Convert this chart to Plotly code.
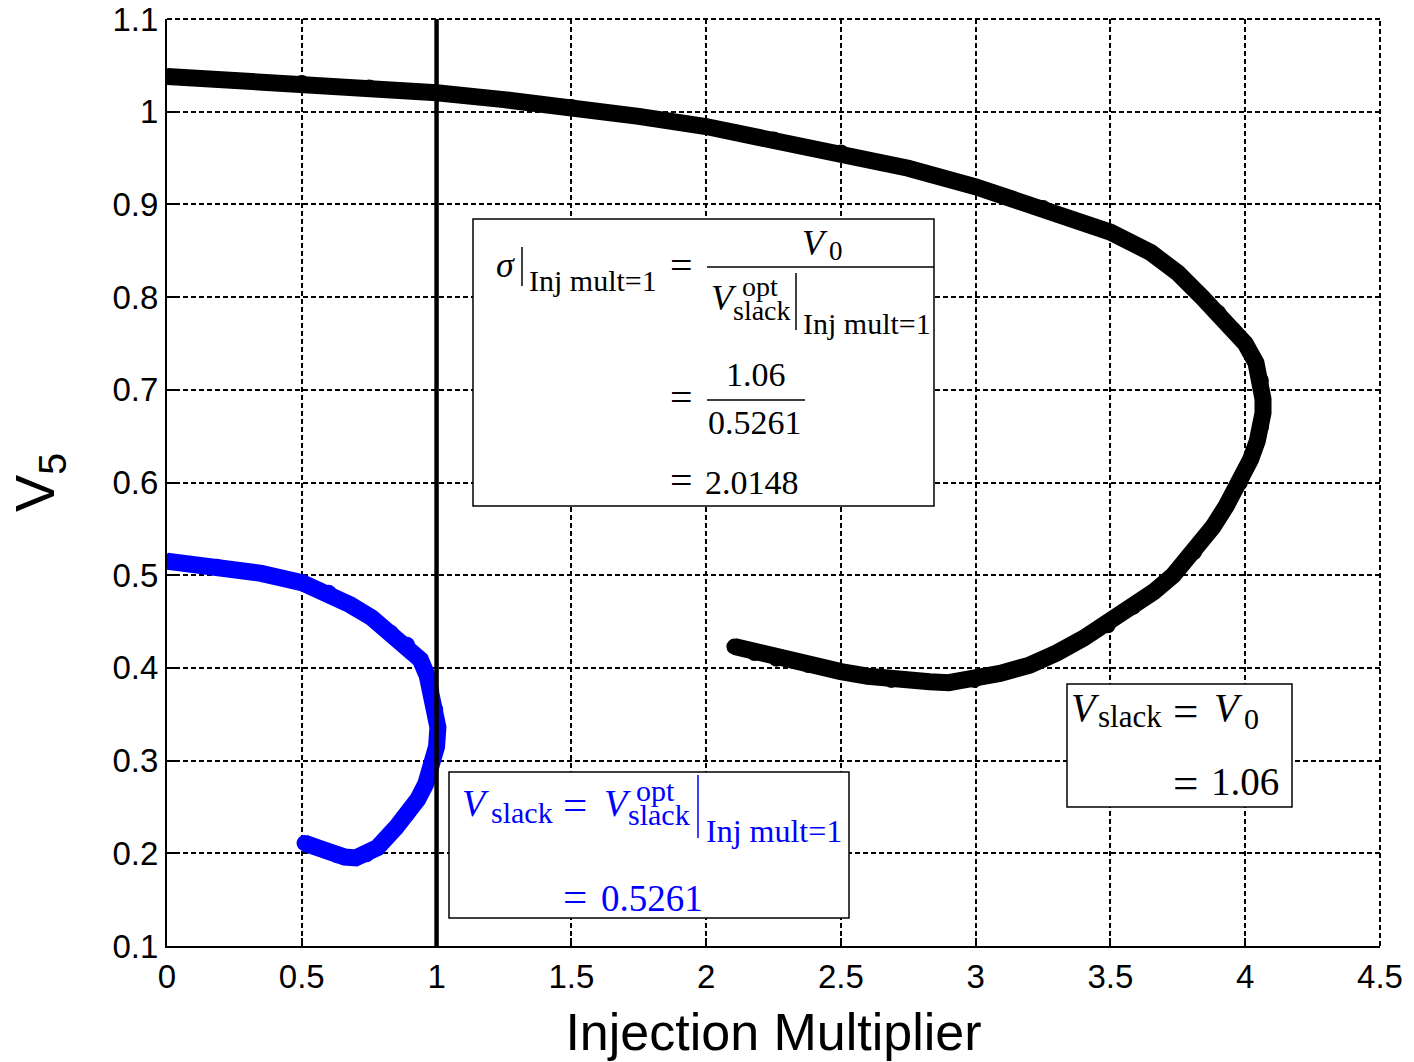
import plotly.graph_objects as go

# ---------------- data ----------------
black_x = [0.0, 0.25, 0.5, 0.75, 1.0, 1.25, 1.5, 1.75, 2.0, 2.25,
           2.5, 2.75, 3.0, 3.25, 3.5, 3.65, 3.75, 3.84, 3.90, 3.955,
           4.0, 4.04, 4.058, 4.066, 4.066, 4.058, 4.045, 4.02, 3.98, 3.93,
           3.88, 3.81, 3.733, 3.66, 3.584, 3.49, 3.40, 3.30, 3.20, 3.09,
           2.995, 2.90, 2.829, 2.687, 2.60, 2.50, 2.38, 2.261, 2.18, 2.105]
black_y = [1.038, 1.034, 1.031, 1.026, 1.0205, 1.013, 1.005, 0.995, 0.984, 0.970,
           0.956, 0.939, 0.919, 0.896, 0.870, 0.848, 0.826, 0.800, 0.783, 0.765,
           0.750, 0.729, 0.710, 0.690, 0.675, 0.660, 0.645, 0.625, 0.600, 0.575,
           0.552, 0.525, 0.500, 0.482, 0.466, 0.446, 0.432, 0.416, 0.403, 0.394,
           0.387, 0.384, 0.385, 0.387, 0.391, 0.396, 0.403, 0.410, 0.416, 0.423]

blue_x = [0.0, 0.185, 0.35, 0.5, 0.6, 0.68, 0.76, 0.83, 0.89, 0.94, 0.965, 0.98,
          0.995, 1.005, 1.0, 0.98, 0.96, 0.93, 0.89, 0.85, 0.78, 0.74, 0.70, 0.66,
          0.63, 0.57, 0.51]
blue_y = [0.515, 0.509, 0.502, 0.492, 0.481, 0.468, 0.454, 0.438, 0.425, 0.409, 0.392,
          0.376, 0.355, 0.336, 0.315, 0.293, 0.275, 0.258, 0.242, 0.228, 0.206, 0.199,
          0.195, 0.196, 0.198, 0.205, 0.211]

vline_x = [1.0, 1.0]
vline_y = [0.1, 1.1]

x_ticks = [0, 0.5, 1, 1.5, 2, 2.5, 3, 3.5, 4, 4.5]
x_tick_text = ["0", "0.5", "1", "1.5", "2", "2.5", "3", "3.5", "4", "4.5"]
y_ticks = [0.1, 0.2, 0.3, 0.4, 0.5, 0.6, 0.7, 0.8, 0.9, 1.0, 1.1]
y_tick_text = ["0.1", "0.2", "0.3", "0.4", "0.5", "0.6", "0.7", "0.8", "0.9", "1", "1.1"]

x_title = "Injection Multiplier"
y_title = "V<sub>5</sub>"

# ---------------- layout helpers (pixel -> paper) ----------------
W, H = 1414, 1062
L, R, T, B = 167, 1380, 19, 946


def px(x):
    return (x - L) / (R - L)


def py(y):
    return (B - y) / (B - T)


SERIF = "Liberation Serif"
annotations = []
shapes = []


def txt(x, y, s, size, color="black", xanchor="center"):
    annotations.append(dict(x=px(x), y=py(y), xref="paper", yref="paper", text=s,
                            showarrow=False, xanchor=xanchor, yanchor="middle",
                            font=dict(family=SERIF, size=size, color=color)))


def hline(x0, x1, y, color="black", w=1.5):
    shapes.append(dict(type="line", xref="paper", yref="paper", x0=px(x0), x1=px(x1),
                       y0=py(y), y1=py(y), line=dict(color=color, width=w), layer="above"))


def vline(x, y0, y1, color="black", w=1.5):
    shapes.append(dict(type="line", xref="paper", yref="paper", x0=px(x), x1=px(x),
                       y0=py(y0), y1=py(y1), line=dict(color=color, width=w), layer="above"))


def box(x0, y0, x1, y1):
    shapes.append(dict(type="rect", xref="paper", yref="paper", x0=px(x0), x1=px(x1),
                       y0=py(y1), y1=py(y0), fillcolor="white",
                       line=dict(color="black", width=1.5), layer="above"))


# dashed frame on top and right (grid style, as in the reference)
GRID_DASH = "5px,3px"
shapes.append(dict(type="line", xref="paper", yref="paper", x0=0, x1=1, y0=1, y1=1,
                   line=dict(color="black", width=2, dash=GRID_DASH), layer="below"))
shapes.append(dict(type="line", xref="paper", yref="paper", x0=1, x1=1, y0=0, y1=1,
                   line=dict(color="black", width=2, dash=GRID_DASH), layer="below"))

# ---- box 1 ----
box(473, 219, 934, 506)
txt(506, 265, "<i>σ</i>", 36)
vline(522, 247, 286)
txt(527, 280, "Inj mult=1", 30, xanchor="left")
txt(681, 265, "=", 40)
txt(815, 243, "<i>V</i>", 36)
txt(827, 251, "0", 27, xanchor="left")
hline(707, 934, 267)
txt(724, 298, "<i>V</i>", 36)
txt(740, 286, "opt", 28, xanchor="left")
txt(731, 310, "slack", 28, xanchor="left")
vline(796, 273, 330)
txt(801, 323, "Inj mult=1", 30, xanchor="left")
txt(681, 397, "=", 40)
txt(756, 375, "1.06", 34)
hline(707, 805, 400)
txt(755, 422, "0.5261", 34)
txt(681, 480, "=", 40)
txt(752, 482, "2.0148", 34)

# ---- box 2 (blue) ----
BLUE = "#0000ff"
box(449, 772, 849, 918)
txt(475, 803, "<i>V</i>", 38, BLUE)
txt(489, 812, "slack", 30, BLUE, xanchor="left")
txt(575, 804, "=", 43, BLUE)
txt(617, 803, "<i>V</i>", 38, BLUE)
txt(634, 790, "opt", 30, BLUE, xanchor="left")
txt(626, 814, "slack", 30, BLUE, xanchor="left")
vline(698, 775, 838, BLUE)
txt(704, 831, "Inj mult=1", 32, BLUE, xanchor="left")
txt(575, 896, "=", 43, BLUE)
txt(652, 898, "0.5261", 37, BLUE)

# ---- box 3 ----
box(1067, 684, 1292, 807)
txt(1085, 707, "<i>V</i>", 40)
txt(1096, 716, "slack", 31, xanchor="left")
txt(1185, 711, "=", 45)
txt(1228, 707, "<i>V</i>", 40)
txt(1242, 718, "0", 30, xanchor="left")
txt(1185, 783, "=", 45)
txt(1245, 781, "1.06", 39)

# ---------------- figure ----------------
fig = go.Figure()
fig.add_trace(go.Scatter(x=blue_x, y=blue_y, mode="lines+markers",
                         line=dict(color="#0000ff", width=17),
                         marker=dict(color="#0000ff", size=16, line=dict(width=0)),
                         showlegend=False, hoverinfo="skip"))
fig.add_trace(go.Scatter(x=black_x, y=black_y, mode="lines+markers",
                         line=dict(color="black", width=17),
                         marker=dict(color="black", size=16, line=dict(width=0)),
                         showlegend=False, hoverinfo="skip"))
fig.add_trace(go.Scatter(x=vline_x, y=vline_y, mode="lines",
                         line=dict(color="black", width=4.5), showlegend=False,
                         hoverinfo="skip"))

axis_common = dict(showline=True, linecolor="black", linewidth=2, mirror=False,
                   ticks="inside", ticklen=8, tickwidth=2, tickcolor="black",
                   showgrid=True, gridcolor="black", gridwidth=2, griddash=GRID_DASH,
                   zeroline=False, automargin=False,
                   tickfont=dict(family="Liberation Sans", size=33, color="black"))

fig.update_layout(
    width=W, height=H,
    margin=dict(l=L, r=W - R, t=T, b=H - B, autoexpand=False),
    paper_bgcolor="white", plot_bgcolor="white",
    showlegend=False,
    xaxis=dict(range=[0, 4.5], tickvals=x_ticks, ticktext=x_tick_text,
               title=dict(text=x_title, standoff=20,
                          font=dict(family="Liberation Sans", size=52, color="black")),
               **axis_common),
    yaxis=dict(range=[0.1, 1.1], tickvals=y_ticks, ticktext=y_tick_text,
               title=dict(text=y_title, standoff=40,
                          font=dict(family="Liberation Sans", size=56, color="black")),
               **axis_common),
    annotations=annotations,
    shapes=shapes,
)

fig.write_html("out.html")
